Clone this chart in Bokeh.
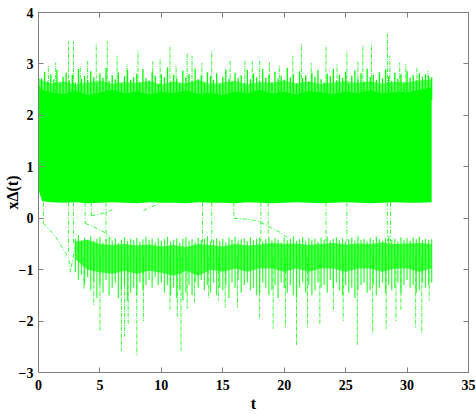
import numpy as np
from bokeh.plotting import figure
from bokeh.models import Range1d, FixedTicker, LinearAxis
from bokeh.embed import file_html
from bokeh.resources import INLINE

GREEN = "#00ff00"
GRAY = "#7f7f7f"
FONT = "Liberation Serif"

# ---------------- data ----------------
x_ticks = [0, 5, 10, 15, 20, 25, 30, 35]
y_ticks = [-3, -2, -1, 0, 1, 2, 3, 4]

# upper (dense) band envelope
band_t = [0, 0.3] + list(range(1, 33))
band_bottom = [0.55, 0.33, 0.31, 0.30, 0.31, 0.29, 0.30, 0.31, 0.30, 0.29, 0.31, 0.30, 0.30, 0.29, 0.31,
               0.30, 0.30, 0.29, 0.31, 0.30, 0.29, 0.30, 0.31, 0.30, 0.29, 0.30, 0.31, 0.30, 0.29, 0.30,
               0.31, 0.30, 0.30, 0.31]
band_top = [2.60, 2.50, 2.45, 2.42, 2.48, 2.40, 2.45, 2.50, 2.43, 2.47, 2.41, 2.46, 2.44, 2.49, 2.42,
            2.45, 2.40, 2.47, 2.44, 2.50, 2.43, 2.46, 2.41, 2.48, 2.45, 2.42, 2.47, 2.44, 2.49, 2.43,
            2.46, 2.45, 2.50, 2.55]
fringe_top = [2.72, 2.68, 2.62, 2.66, 2.60, 2.64, 2.68, 2.61, 2.65, 2.63, 2.67, 2.60, 2.66, 2.62, 2.69,
              2.61, 2.64, 2.67, 2.60, 2.65, 2.63, 2.68, 2.62, 2.66, 2.61, 2.64, 2.67, 2.63, 2.66, 2.62,
              2.65, 2.64, 2.68, 2.70]

# ragged top of the upper band, every 0.25 in t from 0 to 32
rag_t = [i * 0.25 for i in range(129)]
ragged_top = [
    2.78, 2.72, 2.85, 2.66, 2.80, 2.70, 2.88, 2.62, 2.75, 2.83, 2.68, 2.79, 2.64, 2.90, 2.71, 2.77,
    2.69, 2.86, 2.74, 2.60, 2.82, 2.73, 2.92, 2.67, 2.78, 2.70, 2.84, 2.63, 2.76, 2.88, 2.69, 2.74,
    2.81, 2.65, 2.90, 2.72, 2.68, 2.85, 2.77, 2.61, 2.80, 2.74, 2.93, 2.66, 2.79, 2.71, 2.62, 2.87,
    2.73, 2.80, 2.67, 2.91, 2.70, 2.78, 2.64, 2.84, 2.76, 2.69, 2.82, 2.60, 2.75, 2.89, 2.71, 2.66,
    2.83, 2.72, 2.78, 2.63, 2.88, 2.70, 2.81, 2.74, 2.67, 2.90, 2.73, 2.79, 2.65, 2.85, 2.71, 2.77,
    2.69, 2.92, 2.74, 2.80, 2.62, 2.86, 2.72, 2.78, 2.66, 2.83, 2.75, 2.88, 2.70, 2.64, 2.81, 2.76,
    2.90, 2.68, 2.79, 2.73, 2.85, 2.61, 2.77, 2.87, 2.70, 2.82, 2.66, 2.91, 2.74, 2.79, 2.69, 2.84,
    2.72, 2.89, 2.76, 2.67, 2.83, 2.71, 2.80, 2.64, 2.86, 2.73, 2.78, 2.69, 2.82, 2.75, 2.80, 2.77,
    2.74,
]

# tall upward excursions of the upper band
spike_t = [0.8, 1.4, 2.45, 2.85, 3.4, 4.0, 4.7, 5.6, 6.4, 7.2, 8.1, 9.3, 9.9, 10.7, 11.2, 12.1, 12.5,
           13.3, 14.1, 15.6, 16.8, 17.4, 18.0, 18.8, 19.6, 20.7, 21.4, 22.2, 23.4, 24.3, 25.1, 26.0,
           26.4, 27.1, 28.4, 28.6, 29.4, 29.9, 30.8, 31.7]
spike_top = [2.98, 3.03, 3.44, 3.44, 2.95, 3.06, 3.40, 3.44, 3.16, 3.00, 3.26, 3.05, 3.12, 3.36, 2.98,
             3.20, 3.16, 3.02, 3.26, 3.07, 3.07, 3.05, 3.07, 3.03, 2.98, 3.16, 3.40, 3.02, 3.36, 3.00,
             3.26, 3.05, 3.36, 3.40, 3.59, 3.16, 3.03, 3.00, 2.93, 2.87]

# lower (sparse) cluster envelope
low_t = list(range(3, 33))
low_top = [-0.45, -0.42, -0.50, -0.52, -0.50, -0.53, -0.51, -0.55, -0.52, -0.56, -0.50, -0.52, -0.55,
           -0.50, -0.53, -0.51, -0.48, -0.50, -0.49, -0.52, -0.50, -0.48, -0.51, -0.49, -0.50, -0.47,
           -0.50, -0.49, -0.48, -0.50]
low_core_bot = [-0.80, -1.00, -1.05, -1.08, -1.02, -1.08, -1.02, -1.06, -1.12, -1.02, -1.12, -1.00,
                -1.04, -0.98, -1.04, -0.98, -0.98, -1.04, -0.98, -1.04, -0.98, -0.98, -1.04, -0.98,
                -0.98, -1.04, -0.98, -0.98, -1.04, -0.98]

# rough top edge and jagged bottom of the lower cluster, every 0.25 in t from 3 to 32
dip_t = [3 + i * 0.25 for i in range(117)]
low_peak = [
    -0.40, -0.33, -0.45, -0.38, -0.42, -0.35, -0.44, -0.40, -0.36, -0.47, -0.41, -0.38,
    -0.44, -0.39, -0.48, -0.42, -0.37, -0.45, -0.40, -0.43, -0.38, -0.46, -0.41, -0.36,
    -0.43, -0.40, -0.47, -0.38, -0.44, -0.41, -0.36, -0.45, -0.42, -0.39, -0.48, -0.40,
    -0.37, -0.44, -0.41, -0.46, -0.38, -0.43, -0.40, -0.35, -0.45, -0.42, -0.39, -0.44,
    -0.40, -0.47, -0.38, -0.42, -0.36, -0.44, -0.41, -0.39, -0.45, -0.37, -0.43, -0.40,
    -0.38, -0.45, -0.41, -0.36, -0.44, -0.39, -0.42, -0.47, -0.38, -0.43, -0.40, -0.35,
    -0.44, -0.41, -0.37, -0.45, -0.39, -0.43, -0.40, -0.46, -0.38, -0.42, -0.36, -0.44,
    -0.40, -0.37, -0.43, -0.39, -0.46, -0.41, -0.38, -0.44, -0.35, -0.42, -0.40, -0.45,
    -0.38, -0.43, -0.36, -0.41, -0.44, -0.39, -0.35, -0.42, -0.40, -0.46, -0.37, -0.43,
    -0.39, -0.44, -0.38, -0.41, -0.36, -0.43, -0.40, -0.42,
    -0.41,
]
low_dip = [
    -1.05, -1.20, -1.10, -1.30, -1.15, -1.40, -1.25, -1.55, -1.30, -1.45, -1.20, -1.50,
    -1.35, -1.25, -1.55, -1.40, -1.30, -1.60, -1.45, -1.35, -1.50, -1.25, -1.40, -1.30,
    -1.20, -1.35, -1.15, -1.30, -1.25, -1.45, -1.30, -1.50, -1.35, -1.55, -1.40, -1.60,
    -1.45, -1.30, -1.50, -1.25, -1.35, -1.20, -1.40, -1.30, -1.45, -1.25, -1.50, -1.35,
    -1.40, -1.30, -1.55, -1.25, -1.35, -1.20, -1.45, -1.30, -1.25, -1.40, -1.35, -1.50,
    -1.45, -1.25, -1.35, -1.50, -1.40, -1.30, -1.55, -1.25, -1.35, -1.45, -1.30, -1.50,
    -1.55, -1.35, -1.25, -1.45, -1.30, -1.50, -1.40, -1.25, -1.35, -1.30, -1.45, -1.20,
    -1.35, -1.25, -1.40, -1.50, -1.30, -1.45, -1.35, -1.55, -1.40, -1.30, -1.25, -1.45,
    -1.40, -1.30, -1.50, -1.35, -1.25, -1.45, -1.30, -1.40, -1.35, -1.25, -1.45, -1.30,
    -1.20, -1.35, -1.30, -1.45, -1.40, -1.25, -1.35, -1.30,
    -1.25,
]

# deep downward excursions of the lower cluster
dspike_t = [3.7, 4.5, 5.0, 6.75, 7.0, 7.3, 8.0, 8.55, 10.7, 11.3, 11.6, 12.1, 12.7, 13.85, 14.65, 15.2,
            16.2, 18.0, 19.1, 20.1, 21.0, 21.9, 22.9, 24.0, 24.8, 25.95, 27.2, 28.3, 29.1, 29.5, 30.7,
            31.2, 31.8]
dspike_bot = [-1.37, -1.70, -2.20, -2.58, -2.30, -2.05, -2.67, -2.00, -1.80, -1.93, -2.58, -1.76, -1.64,
              -1.56, -1.60, -1.74, -1.74, -1.95, -2.15, -2.13, -2.48, -2.13, -2.05, -1.80, -2.00, -2.48,
              -2.23, -2.15, -2.00, -1.80, -2.13, -2.25, -1.60]

# switching trajectories from the upper band to the lower cluster
drop_t = [0.4, 2.45, 2.85, 3.8, 4.3, 5.5, 13.35, 14.1, 15.9, 18.1, 18.7, 23.4, 25.1, 28.4, 28.65]
drop_end = [-0.10, -0.70, -0.50, -0.10, 0.05, -0.45, -0.50, -0.50, 0.00, -0.45, -0.30, -0.45, -0.45,
            -0.45, -0.45]
curve_t = [[0.4, 1.0, 1.45, 2.0, 2.45, 2.6, 2.75, 3.0],
           [3.8, 4.6, 5.4, 6.0],
           [4.3, 5.0, 5.6, 6.1],
           [8.55, 9.2, 9.8],
           [15.9, 17.0, 17.8, 18.9, 19.6, 20.3]]
curve_v = [[-0.10, -0.25, -0.38, -0.60, -0.77, -1.05, -0.85, -0.55],
           [-0.10, -0.18, -0.28, -0.42],
           [0.05, 0.08, 0.12, 0.18],
           [0.15, 0.22, 0.28],
           [0.00, -0.02, -0.05, -0.18, -0.27, -0.38]]

UPPER_BASE = 2.3     # where the ragged lines start (inside the solid band)
LOWER_BASE = -0.75   # where the lower-cluster lines start (inside its core)
DROP_START = 0.3

# ---------------- figure ----------------
p = figure(width=476, height=414, x_range=Range1d(0, 35), y_range=Range1d(-3, 4),
           output_backend="svg", toolbar_location=None,
           min_border_left=4, min_border_right=8, min_border_top=12, min_border_bottom=6)
p.background_fill_color = "white"
p.border_fill_color = "white"
p.outline_line_color = GRAY
p.xgrid.visible = False
p.ygrid.visible = False

# upper band
p.varea(x=band_t, y1=band_bottom, y2=band_top, fill_color=GREEN)
p.varea(x=band_t, y1=band_top, y2=fringe_top, fill_color=GREEN, fill_alpha=0.6)
p.segment(x0=rag_t, y0=UPPER_BASE, x1=rag_t, y1=ragged_top, line_color=GREEN, line_width=1.3)
p.segment(x0=spike_t, y0=UPPER_BASE, x1=spike_t, y1=spike_top, line_color=GREEN, line_width=1,
          line_alpha=0.8, line_dash="4 1 1 1")

# lower cluster
p.varea(x=low_t, y1=low_core_bot, y2=low_top, fill_color=GREEN, fill_alpha=0.7)
p.segment(x0=dip_t, y0=LOWER_BASE, x1=dip_t, y1=low_peak, line_color=GREEN, line_width=1.2,
          line_alpha=0.8)
p.segment(x0=dip_t, y0=LOWER_BASE, x1=dip_t, y1=low_dip, line_color=GREEN, line_width=1.3,
          line_alpha=0.75)
p.segment(x0=dspike_t, y0=LOWER_BASE, x1=dspike_t, y1=dspike_bot, line_color=GREEN, line_width=1,
          line_alpha=0.8, line_dash="4 1 1 1")

# switching trajectories
p.segment(x0=drop_t, y0=DROP_START, x1=drop_t, y1=drop_end, line_color=GREEN, line_width=1,
          line_alpha=0.8, line_dash="4 2 1 2")
p.multi_line(xs=curve_t, ys=curve_v, line_color=GREEN, line_width=1, line_alpha=0.8,
             line_dash="4 2 1 2")

# axes
def style_axis(ax, labels=True):
    ax.major_tick_in = 5
    ax.major_tick_out = 0
    ax.minor_tick_in = 0
    ax.minor_tick_out = 0
    ax.axis_line_color = GRAY
    ax.major_tick_line_color = GRAY
    ax.major_label_text_font = FONT
    ax.major_label_text_font_style = "bold"
    if labels:
        ax.major_label_text_font_size = "14px"
        ax.major_label_text_color = "black"
    else:
        ax.major_label_text_font_size = "0px"
        ax.major_label_text_color = None
        ax.major_label_standoff = 0

p.xaxis.ticker = FixedTicker(ticks=x_ticks)
p.yaxis.ticker = FixedTicker(ticks=y_ticks)
style_axis(p.xaxis[0])
style_axis(p.yaxis[0])
p.xaxis.major_label_standoff = 7
p.yaxis.major_label_standoff = 5

for ax, txt in ((p.xaxis[0], "t"), (p.yaxis[0], "x\u0394(t)")):
    ax.axis_label = txt
    ax.axis_label_text_font = FONT
    ax.axis_label_text_font_style = "bold"
    ax.axis_label_text_font_size = "16px"
    ax.axis_label_text_color = "black"
p.xaxis.axis_label_standoff = 2
p.yaxis.axis_label_standoff = -5

top_ax = LinearAxis(ticker=FixedTicker(ticks=x_ticks))
right_ax = LinearAxis(ticker=FixedTicker(ticks=y_ticks))
style_axis(top_ax, labels=False)
style_axis(right_ax, labels=False)
p.add_layout(top_ax, "above")
p.add_layout(right_ax, "right")

open("out.html", "w").write(file_html(p, INLINE))
